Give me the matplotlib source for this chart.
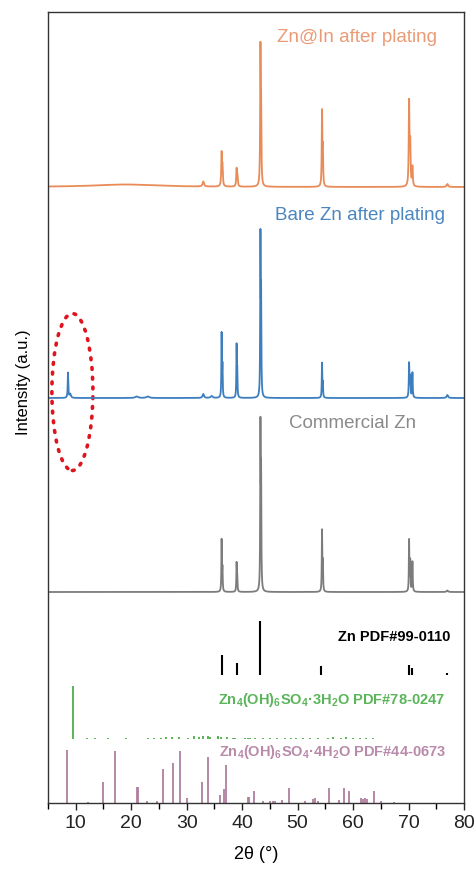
import numpy as np
import matplotlib.pyplot as plt
from matplotlib.patches import Ellipse
from matplotlib.ticker import MultipleLocator

plt.rcParams['font.family'] = ['Liberation Sans', 'DejaVu Sans']
plt.rcParams['mathtext.fontset'] = 'custom'
plt.rcParams['mathtext.rm'] = 'Liberation Sans'
plt.rcParams['mathtext.bf'] = 'Liberation Sans:bold'
plt.rcParams['mathtext.default'] = 'bf'

# measured patterns: peak position (2theta), peak height (a.u.), width (deg)
zn_in_pos = [19.0, 33.0, 36.3, 36.45, 39.0, 39.15, 43.3, 43.42, 54.4, 54.55, 70.1, 70.3, 70.7, 77.0]
zn_in_int = [2.5, 5, 32, 18, 17, 10, 131, 70, 73, 35, 83, 40, 19, 3]
zn_in_wid = [14.0, 0.3, 0.15, 0.15, 0.15, 0.15, 0.12, 0.12, 0.12, 0.12, 0.15, 0.15, 0.15, 0.3]

bare_pos = [8.6, 9.0, 21.0, 23.0, 33.0, 34.5, 36.3, 36.45, 39.0, 39.12, 43.3, 43.42, 54.4, 54.55, 70.1, 70.3, 70.7, 77.0]
bare_int = [25, 4, 1.5, 1.5, 4, 2, 63, 30, 51, 25, 155, 95, 34, 14, 34, 20, 25, 3]
bare_wid = [0.12, 0.3, 0.6, 0.6, 0.3, 0.4, 0.1, 0.1, 0.1, 0.1, 0.1, 0.1, 0.1, 0.1, 0.12, 0.12, 0.12, 0.3]

comm_pos = [36.3, 36.45, 39.0, 39.12, 43.3, 43.42, 54.4, 54.55, 70.1, 70.3, 70.7, 77.0]
comm_int = [51, 22, 28, 14, 159, 110, 60, 28, 51, 30, 30, 1.5]
comm_wid = [0.1, 0.1, 0.1, 0.1, 0.1, 0.1, 0.1, 0.1, 0.1, 0.1, 0.12, 0.3]

# reference cards (stick positions and heights)
zn_pdf_pos = [36.3, 39.0, 43.2, 54.3, 70.1, 70.7, 77.0]
zn_pdf_int = [20, 12, 54, 9, 10, 7, 2]

h3_pos = [9.45, 12.1, 13.4, 15.8, 19.1, 23.0, 24.1, 25.4, 26.3, 27.4, 28.7, 30.2, 31.4, 32.3, 32.9,
          33.8, 34.2, 35.6, 35.7, 36.1, 37.2, 38.4, 38.7, 40.5, 41.1, 41.4, 42.3, 43.8, 45.0, 46.2,
          47.7, 48.9, 49.8, 51.0, 52.2, 53.7, 55.5, 56.4, 57.9, 58.8, 60.0, 61.2, 62.4, 63.6]
h3_int = [53, 1, 1.5, 1, 1.5, 1, 1, 1.5, 2.5, 2, 2.5, 1, 3, 2, 3,
          3, 2.5, 3, 2, 2, 2, 1.5, 1.5, 1.5, 1, 1, 1.5, 1, 1, 1.5,
          1, 1.5, 1, 1, 1.5, 1, 1, 2, 1.5, 2, 1.5, 1, 1.5, 1]

h4_pos = [8.5, 12.2, 14.9, 17.1, 21.0, 21.2, 22.8, 24.6, 25.8, 27.5, 28.8, 30.0, 32.8, 33.9, 36.0,
          36.8, 37.1, 41.1, 41.3, 42.1, 43.8, 45.1, 45.6, 46.0, 47.1, 48.5, 51.3, 52.8, 53.1, 53.7,
          55.7, 57.5, 58.4, 59.2, 61.4, 61.8, 62.1, 62.6, 63.8, 65.0, 67.3]
h4_int = [53, 1, 21, 52, 16, 16, 2, 2, 34, 40, 52, 5, 21, 46, 8,
          14, 38, 6, 6, 12, 2, 2, 2, 2, 3, 15, 2, 4, 5, 2,
          15, 3, 15, 12, 5, 4, 5, 4, 12, 2, 1]

labels = ['Zn@In after plating', 'Bare Zn after plating', 'Commercial Zn']
colors = ['#E98B57', '#3D7EBF', '#7C7C7C']
text_colors = ['#EA9B75', '#4B86BE', '#8A8A8A']
offsets = [616, 405, 211]


def pattern(x, pos, inten, wid):
    y = np.zeros_like(x)
    for p, h, w in zip(pos, inten, wid):
        y += h / (1 + ((x - p) / (w / 2)) ** 2)
    return y


x = np.arange(5, 80.001, 0.01)

fig = plt.figure(figsize=(4.77, 8.69), dpi=100)
ax = fig.add_axes([48 / 477, 1 - 803 / 869, 416 / 477, 791 / 869])

patterns = [(zn_in_pos, zn_in_int, zn_in_wid), (bare_pos, bare_int, bare_wid), (comm_pos, comm_int, comm_wid)]
for (pos, inten, wid), off, c in zip(patterns, offsets, colors):
    ax.plot(x, pattern(x, pos, inten, wid) + off, color=c, lw=1.3)

ax.vlines(zn_pdf_pos, 128, 128 + np.array(zn_pdf_int), color='black', lw=1.5)
ax.vlines(h3_pos, 64, 64 + np.array(h3_int), color='#4DAF4A', lw=1.3)
ax.vlines(h4_pos, 0, np.array(h4_int), color='#B07E9E', lw=1.3)

ax.text(60.7, 766, labels[0], color=text_colors[0], fontsize=13.5, ha='center', va='center')
ax.text(61.2, 588, labels[1], color=text_colors[1], fontsize=13.5, ha='center', va='center')
ax.text(59.9, 380, labels[2], color=text_colors[2], fontsize=13.5, ha='center', va='center')

ax.text(77.5, 166, 'Zn PDF#99-0110', color='black', fontsize=10.5, fontweight='bold', ha='right', va='center')
ax.text(76.5, 103, r'Zn$_4$(OH)$_6$SO$_4$·3H$_2$O PDF#78-0247', color='#5BB55B', fontsize=10.5,
        fontweight='bold', ha='right', va='center')
ax.text(76.8, 51, r'Zn$_4$(OH)$_6$SO$_4$·4H$_2$O PDF#44-0673', color='#B98AAA', fontsize=10.5,
        fontweight='bold', ha='right', va='center')

ax.add_patch(Ellipse((9.4, 411), 7.4, 157, fill=False, edgecolor='#E0141E', lw=2.6,
                     linestyle=(0, (0.5, 2.2)), capstyle='round'))

ax.set_xlim(5, 80)
ax.set_ylim(0, 791)
ax.set_yticks([])
ax.xaxis.set_major_locator(MultipleLocator(10))
ax.xaxis.set_minor_locator(MultipleLocator(5))
ax.tick_params(axis='x', which='major', direction='out', length=5, width=1, labelsize=14, colors='#222222')
ax.tick_params(axis='x', which='minor', direction='out', length=4, width=1)
for s in ax.spines.values():
    s.set_linewidth(1)
    s.set_color('#333333')

ax.set_xlabel('2θ (°)', fontsize=13, labelpad=10)
ax.set_ylabel('Intensity (a.u.)', fontsize=12)
ax.yaxis.set_label_coords(-0.04, 0.532)

fig.savefig('out.png', dpi=100)
